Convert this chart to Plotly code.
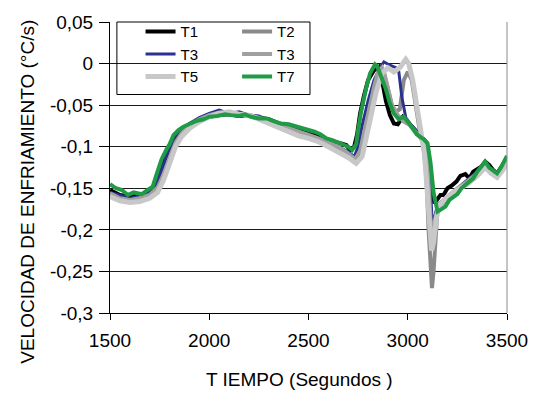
import plotly.graph_objects as go

# ---- data ----
t1_x = [1500,1550,1600,1650,1690,1720,1740,1760,1780,1800,1830,1860,1900,1950,2000,2050,2100,2150,2200,2250,2300,2350,2400,2450,2500,2550,2600,2650,2690,2710,2730,2745,2760,2780,2800,2830,2855,2870,2890,2910,2930,2950,2975,3000,3040,3070,3095,3110,3125,3135,3150,3165,3180,3200,3220,3245,3265,3290,3310,3330,3350,3370,3390,3410,3430,3450,3470,3490,3500]
t1_y = [-0.152,-0.158,-0.160,-0.158,-0.155,-0.148,-0.140,-0.125,-0.112,-0.100,-0.088,-0.080,-0.073,-0.068,-0.064,-0.062,-0.061,-0.063,-0.062,-0.065,-0.067,-0.072,-0.075,-0.078,-0.082,-0.086,-0.092,-0.095,-0.098,-0.104,-0.100,-0.085,-0.060,-0.038,-0.020,-0.008,-0.004,-0.020,-0.045,-0.062,-0.072,-0.073,-0.064,-0.070,-0.080,-0.088,-0.095,-0.120,-0.160,-0.168,-0.162,-0.158,-0.158,-0.150,-0.147,-0.142,-0.135,-0.133,-0.138,-0.130,-0.127,-0.124,-0.118,-0.122,-0.128,-0.132,-0.125,-0.117,-0.113]

t2_x = [1500,1550,1600,1650,1700,1740,1770,1800,1830,1860,1900,1950,2000,2050,2100,2150,2200,2250,2300,2350,2400,2450,2500,2550,2600,2650,2700,2730,2760,2780,2800,2830,2860,2880,2900,2920,2940,2960,2980,3000,3020,3040,3060,3080,3095,3105,3115,3122,3130,3140,3150,3200,3250,3300,3350,3390,3420,3450,3480,3500]
t2_y = [-0.158,-0.163,-0.165,-0.163,-0.160,-0.150,-0.135,-0.115,-0.097,-0.085,-0.075,-0.068,-0.063,-0.060,-0.060,-0.062,-0.062,-0.066,-0.070,-0.075,-0.080,-0.084,-0.088,-0.092,-0.097,-0.102,-0.110,-0.117,-0.108,-0.085,-0.060,-0.030,-0.012,-0.010,-0.030,-0.050,-0.058,-0.055,-0.020,-0.010,-0.020,-0.050,-0.080,-0.100,-0.140,-0.200,-0.255,-0.270,-0.250,-0.200,-0.175,-0.162,-0.152,-0.143,-0.132,-0.122,-0.130,-0.135,-0.125,-0.115]

t3b_x = [1500,1600,1680,1720,1760,1800,1850,1900,1950,2000,2050,2100,2150,2200,2250,2300,2350,2400,2450,2500,2550,2600,2650,2700,2730,2750,2770,2800,2830,2860,2880,2910,2940,2955,2970,2990,3010,3050,3090,3105,3115,3125,3135,3150,3200,3250,3300,3350,3390,3420,3450,3480,3500]
t3b_y = [-0.155,-0.162,-0.158,-0.150,-0.128,-0.102,-0.082,-0.072,-0.065,-0.060,-0.056,-0.060,-0.058,-0.062,-0.063,-0.068,-0.073,-0.078,-0.082,-0.085,-0.090,-0.095,-0.100,-0.106,-0.112,-0.100,-0.075,-0.045,-0.020,-0.005,0.002,-0.002,-0.005,-0.010,-0.040,-0.065,-0.072,-0.083,-0.093,-0.110,-0.150,-0.198,-0.185,-0.170,-0.160,-0.150,-0.140,-0.130,-0.120,-0.128,-0.132,-0.122,-0.112]

t3g_x = [1500,1550,1600,1650,1700,1740,1770,1800,1830,1860,1900,1950,2000,2050,2100,2150,2200,2250,2300,2350,2400,2450,2500,2550,2600,2650,2700,2735,2760,2780,2800,2830,2850,2870,2895,2920,2950,2980,3010,3050,3095,3110,3120,3135,3150,3200,3250,3300,3350,3390,3420,3450,3480,3500]
t3g_y = [-0.156,-0.162,-0.164,-0.162,-0.158,-0.149,-0.133,-0.113,-0.095,-0.084,-0.074,-0.067,-0.062,-0.059,-0.060,-0.061,-0.062,-0.065,-0.069,-0.074,-0.078,-0.082,-0.086,-0.090,-0.095,-0.100,-0.108,-0.115,-0.105,-0.082,-0.058,-0.028,-0.010,-0.005,-0.025,-0.050,-0.062,-0.070,-0.074,-0.085,-0.100,-0.160,-0.210,-0.190,-0.175,-0.160,-0.150,-0.142,-0.132,-0.121,-0.129,-0.134,-0.124,-0.114]

t5_x = [1500,1550,1600,1650,1700,1740,1770,1800,1830,1860,1900,1950,2000,2050,2100,2150,2200,2250,2300,2350,2400,2450,2500,2550,2600,2650,2700,2740,2770,2790,2810,2840,2870,2900,2930,2960,2990,3005,3025,3045,3065,3085,3100,3112,3120,3130,3145,3160,3200,3250,3300,3350,3390,3420,3450,3480,3500]
t5_y = [-0.160,-0.165,-0.167,-0.166,-0.162,-0.155,-0.140,-0.120,-0.100,-0.088,-0.078,-0.070,-0.064,-0.060,-0.058,-0.061,-0.062,-0.067,-0.072,-0.078,-0.083,-0.087,-0.090,-0.094,-0.100,-0.106,-0.113,-0.120,-0.112,-0.090,-0.065,-0.035,-0.012,-0.005,-0.010,-0.005,0.005,0.000,-0.020,-0.050,-0.085,-0.110,-0.160,-0.210,-0.225,-0.215,-0.185,-0.170,-0.160,-0.152,-0.145,-0.135,-0.125,-0.132,-0.137,-0.128,-0.118]

t7_x = [1500,1530,1560,1590,1620,1660,1690,1715,1735,1760,1785,1800,1820,1845,1870,1900,1935,1970,2000,2040,2080,2110,2150,2180,2210,2250,2290,2320,2360,2400,2430,2460,2500,2530,2560,2590,2620,2650,2680,2700,2720,2740,2750,2765,2790,2810,2835,2845,2865,2890,2910,2930,2955,2980,3010,3045,3080,3100,3115,3130,3150,3170,3190,3210,3230,3250,3270,3290,3310,3330,3350,3370,3390,3410,3430,3450,3470,3490,3500]
t7_y = [-0.145,-0.150,-0.152,-0.158,-0.155,-0.157,-0.152,-0.148,-0.133,-0.115,-0.103,-0.097,-0.086,-0.080,-0.076,-0.073,-0.069,-0.067,-0.064,-0.063,-0.061,-0.062,-0.063,-0.061,-0.064,-0.066,-0.066,-0.069,-0.072,-0.073,-0.075,-0.078,-0.080,-0.082,-0.085,-0.090,-0.092,-0.095,-0.097,-0.100,-0.104,-0.097,-0.080,-0.058,-0.030,-0.012,-0.001,-0.003,-0.015,-0.031,-0.048,-0.060,-0.067,-0.064,-0.073,-0.085,-0.091,-0.096,-0.120,-0.155,-0.178,-0.175,-0.172,-0.164,-0.160,-0.157,-0.150,-0.146,-0.143,-0.138,-0.130,-0.124,-0.118,-0.125,-0.129,-0.132,-0.125,-0.115,-0.111]

x_ticks = [1500, 2000, 2500, 3000, 3500]
y_ticks = [0.05, 0, -0.05, -0.1, -0.15, -0.2, -0.25, -0.3]
y_tick_labels = ["0,05", "0", "-0,05", "-0,1", "-0,15", "-0,2", "-0,25", "-0,3"]

FONT = "Liberation Sans, Arial, sans-serif"

series = [
    ("T1", t1_x, t1_y, "#000000", 4, "legend"),
    ("T2", t2_x, t2_y, "#8a8a8a", 4, "legend2"),
    ("T3", t3b_x, t3b_y, "#2b3190", 3, "legend"),
    ("T3", t3g_x, t3g_y, "#a0a0a0", 4, "legend2"),
    ("T5", t5_x, t5_y, "#c8c8c8", 5, "legend"),
    ("T7", t7_x, t7_y, "#1f9a45", 4, "legend2"),
]

fig = go.Figure()
for name, xs, ys, col, w, lg in series:
    fig.add_trace(go.Scatter(x=xs, y=ys, mode="lines", name=name,
                             line=dict(color=col, width=w), legend=lg))

W, H = 540, 397
L, R, T, B = 110, 27, 16, 84
pw, ph = W - L - R, H - T - B

def px(xp):
    return (xp - L) / pw

def py(yp):
    return (H - B - yp) / ph

fig.update_layout(
    width=W, height=H,
    margin=dict(l=L, r=R, t=T, b=B),
    paper_bgcolor="white", plot_bgcolor="white",
    font=dict(family=FONT, size=19, color="#000"),
    legend=dict(x=px(141), y=py(9), xanchor="left", yanchor="top",
                bgcolor="rgba(0,0,0,0)", borderwidth=0,
                font=dict(family=FONT, size=15), tracegroupgap=0),
    legend2=dict(x=px(239), y=py(9), xanchor="left", yanchor="top",
                 bgcolor="rgba(0,0,0,0)", borderwidth=0,
                 font=dict(family=FONT, size=15), tracegroupgap=0),
    xaxis=dict(range=[1500, 3500], tickvals=x_ticks, showgrid=False,
               ticks="outside", ticklen=6, tickcolor="#000",
               ticklabelstandoff=4,
               showline=True, linecolor="#000", linewidth=1, mirror=False,
               zeroline=False, tickfont=dict(family=FONT, size=19)),
    yaxis=dict(range=[-0.3, 0.05], tickvals=y_ticks, ticktext=y_tick_labels,
               showgrid=True, gridcolor="#1a1a1a", gridwidth=1,
               ticks="outside", ticklen=10, tickcolor="#000",
               ticklabelstandoff=2,
               showline=True, linecolor="#000", linewidth=1,
               zeroline=False, tickfont=dict(family=FONT, size=19)),
    shapes=[
        dict(type="line", xref="paper", yref="paper", x0=1, x1=1, y0=0, y1=1,
             line=dict(color="#8a8a8a", width=1)),
        dict(type="rect", xref="paper", yref="paper",
             x0=px(117), x1=px(313), y0=py(90), y1=py(16),
             line=dict(color="#000", width=1), fillcolor="rgba(0,0,0,0)"),
    ],
    annotations=[
        dict(text="VELOCIDAD DE ENFRIAMIENTO (°C/s)", textangle=-90,
             xref="paper", yref="paper", x=px(26), y=py(189),
             xanchor="center", yanchor="middle", showarrow=False,
             font=dict(family=FONT, size=19)),
        dict(text="T IEMPO (Segundos )",
             xref="paper", yref="paper", x=px(302), y=py(381),
             xanchor="center", yanchor="middle", showarrow=False,
             font=dict(family=FONT, size=19)),
    ],
)

fig.write_html("out.html")
